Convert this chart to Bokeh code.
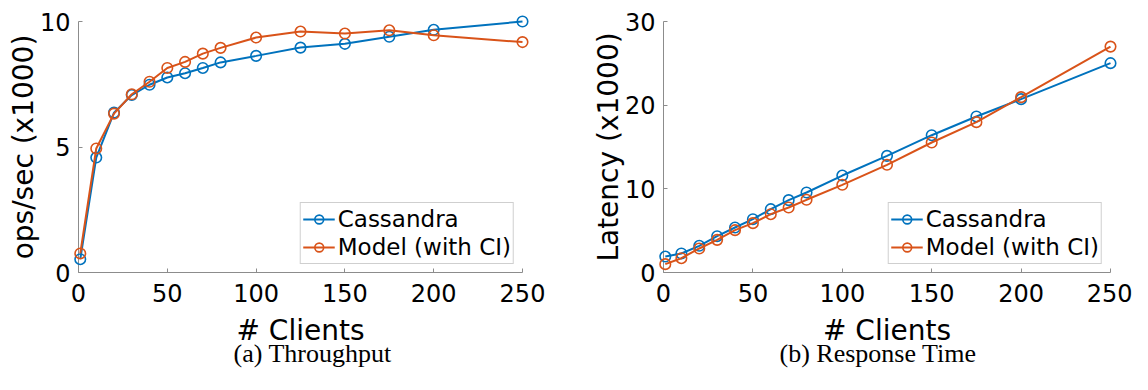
from bokeh.plotting import figure
from bokeh.models import Range1d, Legend, LegendItem, Title, FixedTicker
from bokeh.layouts import row
from bokeh.embed import file_html
from bokeh.resources import INLINE

clients = [1, 10, 20, 30, 40, 50, 60, 70, 80, 100, 125, 150, 175, 200, 250]
thr_cassandra = [0.53, 4.58, 6.37, 7.07, 7.48, 7.77, 7.94, 8.15, 8.37, 8.63, 8.96, 9.11, 9.39, 9.67, 10.0]
thr_model = [0.76, 4.94, 6.33, 7.10, 7.60, 8.15, 8.39, 8.72, 8.95, 9.36, 9.60, 9.52, 9.65, 9.45, 9.18]
lat_cassandra = [1.91, 2.27, 3.19, 4.34, 5.38, 6.37, 7.57, 8.65, 9.56, 11.59, 13.94, 16.41, 18.65, 20.72, 25.02]
lat_model = [1.00, 1.71, 2.87, 3.90, 5.06, 5.90, 6.97, 7.77, 8.69, 10.48, 12.87, 15.54, 17.97, 20.96, 27.0]
x_ticks = [0, 50, 100, 150, 200, 250]
thr_ticks = [0, 5, 10]
lat_ticks = [0, 10, 20, 30]
series_names = ["Cassandra", "Model (with CI)"]
captions = ["(a) Throughput", "(b) Response Time"]
y_labels = ["ops/sec (x1000)", "Latency (x1000)"]
x_label = "# Clients"

BLUE = "#0072BD"
ORANGE = "#D95319"
AXIS_GRAY = "#8c8c8c"
FONT = "DejaVu Sans"


def make_fig(width, bl, br, ymax, yticks, ylabel, caption, cap_offset, ys):
    p = figure(width=width, height=382, output_backend="svg", toolbar_location=None,
               x_range=Range1d(x_ticks[0], x_ticks[-1]), y_range=Range1d(0, ymax),
               min_border_left=bl, min_border_right=br, min_border_top=21, min_border_bottom=110)
    p.outline_line_color = None
    p.grid.visible = False
    p.background_fill_color = "white"
    for ax in (p.xaxis[0], p.yaxis[0]):
        ax.axis_line_color = AXIS_GRAY
        ax.axis_line_width = 1
        ax.major_tick_line_color = AXIS_GRAY
        ax.major_tick_in = 4
        ax.major_tick_out = 0
        ax.minor_tick_line_color = None
        ax.major_label_text_font = FONT
        ax.major_label_text_font_size = "24px"
        ax.major_label_text_color = "black"
        ax.axis_label_text_font = FONT
        ax.axis_label_text_font_size = "28px"
        ax.axis_label_text_font_style = "normal"
        ax.axis_label_text_color = "black"
    p.xaxis.ticker = FixedTicker(ticks=x_ticks)
    p.yaxis.ticker = FixedTicker(ticks=yticks)
    p.xaxis.axis_label = x_label
    p.yaxis.axis_label = ylabel
    p.xaxis.major_label_standoff = 11
    p.xaxis.axis_label_standoff = 9
    p.yaxis.major_label_standoff = 8
    p.yaxis.axis_label_standoff = -3

    items = []
    for vals, color, name in zip(ys, [BLUE, ORANGE], series_names):
        l = p.line(clients, vals, line_color=color, line_width=2, level="overlay")
        s = p.scatter(clients, vals, marker="circle", size=10.5, line_color=color,
                      line_width=1.6, fill_color=None, level="overlay")
        items.append(LegendItem(label=name, renderers=[l, s]))
    leg = Legend(items=items, location="bottom_right", margin=8, padding=2, spacing=0,
                 label_standoff=3, glyph_width=32, glyph_height=22, label_height=28,
                 label_text_font=FONT, label_text_font_size="23px", label_text_color="black",
                 border_line_color="#a0a0a0", border_line_width=1,
                 background_fill_color="white", background_fill_alpha=1.0)
    p.add_layout(leg)
    t = Title(text=caption, align="left", text_font="Liberation Serif",
              text_font_size="26px", text_font_style="normal", text_color="black",
              standoff=-26, offset=cap_offset)
    p.add_layout(t, "below")
    return p


p1 = make_fig(578, 78, 56, 10, thr_ticks, y_labels[0], captions[0], 155, [thr_cassandra, thr_model])
p2 = make_fig(554, 85, 22, 30, lat_ticks, y_labels[1], captions[1], 116, [lat_cassandra, lat_model])
layout = row(p1, p2)
open("out.html", "w").write(file_html(layout, INLINE))
